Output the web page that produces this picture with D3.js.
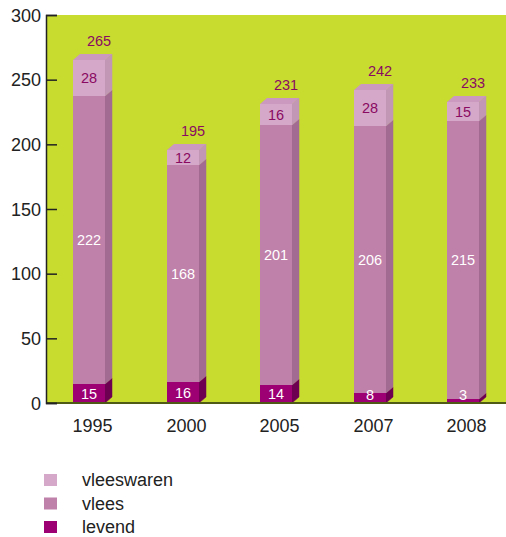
<!DOCTYPE html>
<html>
<head>
<meta charset="utf-8">
<script src="https://cdn.jsdelivr.net/npm/d3@7"></script>
<style>
  body { margin: 0; background: #fff; }
  svg { display: block; font-family: "Liberation Sans", Arial, sans-serif; }
</style>
</head>
<body>
<div id="chart"></div>
<script>
// Data
var years = ["1995", "2000", "2005", "2007", "2008"];
var levend = [15, 16, 14, 8, 3];
var vlees = [222, 168, 201, 206, 215];
var vleeswaren = [28, 12, 16, 28, 15];
var totals = [265, 195, 231, 242, 233];
var yTicks = [0, 50, 100, 150, 200, 250, 300];
var seriesNames = ["levend", "vlees", "vleeswaren"];

// Size
var width = 506;
var height = 537;

// plot area
var plotLeft = 46, plotTop = 15, plotRight = 506, plotBottom = 403;

// 3d depth
var dx = 7, dy = 6;
var barW = 32;

var colors = {
  levend: { front: "#9c0073", side: "#6e0052", top: "#b0207f" },
  vlees: { front: "#bf80a9", side: "#a26b91", top: "#c98fb8" },
  vleeswaren: { front: "#d5a8c9", side: "#c197b5", top: "#cb98bf" }
};

var svg = d3.select("#chart")
  .append("svg")
  .attr("width", width)
  .attr("height", height);

// background
svg.append("rect")
  .attr("x", plotLeft)
  .attr("y", plotTop)
  .attr("width", plotRight - plotLeft)
  .attr("height", plotBottom - plotTop)
  .attr("fill", "#c8dc30");

var yScale = d3.scaleLinear().domain([0, 300]).range([plotBottom, plotTop]);
var xScale = d3.scaleBand().domain(years).range([42.25, 42.25 + 93.5 * 5]).padding(0);

// stacked data
var rows = years.map(function(y, i) {
  return { year: y, levend: levend[i], vlees: vlees[i], vleeswaren: vleeswaren[i], total: totals[i] };
});
var stack = d3.stack().keys(seriesNames)(rows);

function frontX(year) {
  return Math.round(xScale(year) + xScale.bandwidth() / 2 - barW / 2);
}

var bars = svg.append("g").attr("class", "bars");
var labels = svg.append("g").attr("class", "labels");

stack.forEach(function(layer, li) {
  var key = layer.key;
  layer.forEach(function(d) {
    var x0 = frontX(d.data.year);
    var x1 = x0 + barW;
    var yTop = Math.round(yScale(d[1]));
    var yBot = Math.round(yScale(d[0]));
    // side face
    bars.append("path")
      .attr("d", "M" + x1 + "," + yBot + "L" + x1 + "," + yTop + "L" + (x1 + dx) + "," + (yTop - dy) +
        "L" + (x1 + dx) + "," + (yBot - dy) + "Z")
      .attr("fill", colors[key].side)
      .attr("stroke", colors[key].side)
      .attr("stroke-width", 0.5);
    // front face
    bars.append("rect")
      .attr("x", x0)
      .attr("y", yTop)
      .attr("width", barW)
      .attr("height", yBot - yTop)
      .attr("shape-rendering", "crispEdges")
      .attr("fill", colors[key].front);
    // top face only on top segment
    if (li === stack.length - 1) {
      bars.append("path")
        .attr("d", "M" + x0 + "," + yTop + "L" + (x0 + dx) + "," + (yTop - dy) + "L" + (x1 + dx) + "," + (yTop - dy) +
          "L" + x1 + "," + yTop + "Z")
        .attr("fill", colors[key].top);
    }
    // value label (small segments: keep label just above the floor)
    var mid = Math.min((yTop + yBot) / 2, plotBottom - 8);
    labels.append("text")
      .attr("x", x0 + barW / 2)
      .attr("y", mid + 5)
      .attr("text-anchor", "middle")
      .attr("font-size", 14.5)
      .attr("fill", key === "vleeswaren" ? "#8a0a62" : "#ffffff")
      .text(d[1] - d[0]);
  });
});

// Totals
rows.forEach(function(d) {
  svg.append("text")
    .attr("x", frontX(d.year) + barW / 2 + 10)
    .attr("y", yScale(d3.sum(seriesNames, function(k) { return d[k]; })) - dy - 8)
    .attr("text-anchor", "middle")
    .attr("font-size", 14.5)
    .attr("fill", "#8a0a62")
    .text(d.total);
});

// baseline
svg.append("line")
  .attr("x1", plotLeft)
  .attr("x2", plotRight)
  .attr("y1", plotBottom)
  .attr("y2", plotBottom)
  .attr("stroke", "#4f5a14")
  .attr("stroke-width", 2);

// y axis
var yAxis = d3.axisRight(yScale).tickValues(yTicks).tickSize(11).tickFormat("");
var gy = svg.append("g")
  .attr("transform", "translate(" + plotLeft + ",0)")
  .call(yAxis);
gy.select(".domain").attr("stroke", "#222").attr("stroke-width", 1.5);
gy.selectAll(".tick line").attr("stroke", "#222").attr("stroke-width", 1.5);

svg.append("g").selectAll("text")
  .data(yTicks)
  .enter()
  .append("text")
  .attr("x", 41)
  .attr("y", function(d) { return yScale(d) + 6.5; })
  .attr("text-anchor", "end")
  .attr("font-size", 18)
  .attr("fill", "#222")
  .text(function(d) { return d; });

// x labels
svg.append("g").selectAll("text")
  .data(years)
  .enter()
  .append("text")
  .attr("x", function(d) { return frontX(d) + barW / 2 + 3.5; })
  .attr("y", 432)
  .attr("text-anchor", "middle")
  .attr("font-size", 18)
  .attr("fill", "#222")
  .text(function(d) { return d; });

// legend
var legendItems = ["vleeswaren", "vlees", "levend"];
var legend = svg.append("g").selectAll("g")
  .data(legendItems)
  .enter()
  .append("g")
  .attr("transform", function(d, i) { return "translate(44," + (474 + i * 23.5) + ")"; });
legend.append("rect")
  .attr("width", 13)
  .attr("height", 12)
  .attr("fill", function(d) { return colors[d].front; });
legend.append("text")
  .attr("x", 38)
  .attr("y", 12)
  .attr("font-size", 18)
  .attr("fill", "#222")
  .text(function(d) { return d; });
</script>
</body>
</html>
